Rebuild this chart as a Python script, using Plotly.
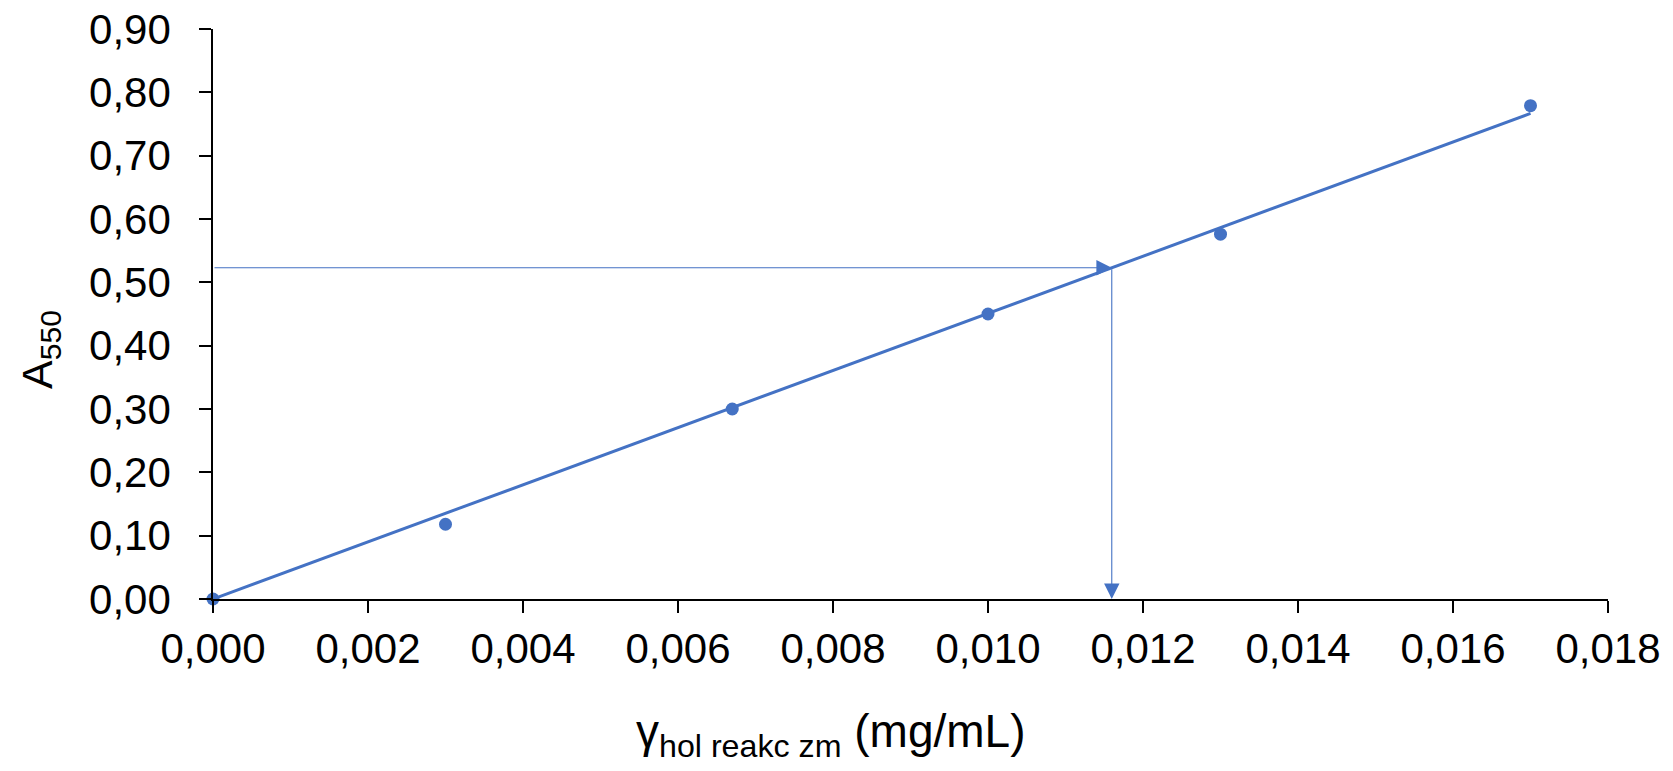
import numpy as np
import plotly.graph_objects as go

# Data
conc = [0.0, 0.0030, 0.0067, 0.0100, 0.0130, 0.0170]   # mg/mL
absorb = [0.0, 0.118, 0.300, 0.450, 0.576, 0.779]      # A550
sample_abs = 0.523
x_ticks = [0.000, 0.002, 0.004, 0.006, 0.008, 0.010, 0.012, 0.014, 0.016, 0.018]
y_ticks = [0.0, 0.1, 0.2, 0.3, 0.4, 0.5, 0.6, 0.7, 0.8, 0.9]

BLUE = "#4472C4"
FONT = "Liberation Sans, Arial, sans-serif"

# linear trend forced through origin
xa = np.array(conc)
ya = np.array(absorb)
slope = float((xa * ya).sum() / (xa * xa).sum())
trend_x = [0.0, max(conc)]
trend_y = [slope * v for v in trend_x]
sample_x = sample_abs / slope

fig = go.Figure()
fig.add_trace(go.Scatter(x=trend_x, y=trend_y, mode="lines",
                         line=dict(color=BLUE, width=3), showlegend=False, hoverinfo="skip"))
fig.add_trace(go.Scatter(x=conc, y=absorb, mode="markers",
                         marker=dict(color=BLUE, size=13), showlegend=False, cliponaxis=False))

# arrows
fig.add_annotation(x=sample_x, y=sample_abs, ax=0, ay=sample_abs, xref="x", yref="y",
                   axref="x", ayref="y", showarrow=True, arrowhead=2, arrowsize=2.8,
                   arrowwidth=1.1, arrowcolor=BLUE, standoff=0, startstandoff=0, text="")
fig.add_annotation(x=sample_x, y=0, ax=sample_x, ay=sample_abs, xref="x", yref="y",
                   axref="x", ayref="y", showarrow=True, arrowhead=2, arrowsize=2.8,
                   arrowwidth=1.1, arrowcolor=BLUE, standoff=0, startstandoff=0, text="")

# axis titles
fig.add_annotation(text="γ<sub>hol reakc zm</sub> (mg/mL)", xref="paper", yref="paper",
                   x=(830 - 213) / (1608 - 213), y=-(734 - 599) / (599 - 29),
                   showarrow=False, font=dict(family=FONT, size=46, color="black"),
                   xanchor="center", yanchor="middle")
fig.add_annotation(text="A<sub>550</sub>", xref="paper", yref="paper",
                   x=-(213 - 40) / (1608 - 213), y=(599 - 350) / (599 - 29),
                   showarrow=False, textangle=-90, font=dict(family=FONT, size=43, color="black"),
                   xanchor="center", yanchor="middle")

axis_common = dict(showgrid=False, zeroline=False, showline=True, linecolor="black",
                   linewidth=1.5, ticks="outside", ticklen=12, tickwidth=1.5,
                   tickcolor="black", automargin=False,
                   tickfont=dict(family=FONT, size=42, color="black"))

fig.update_xaxes(range=[0, 0.018], tickvals=x_ticks, tickformat=".3f", **axis_common)
fig.update_yaxes(range=[0, 0.9], tickvals=y_ticks, tickformat=".2f",
                 ticklabelstandoff=20, **axis_common)

fig.update_layout(width=1673, height=771, separators=", ",
                  margin=dict(l=213, r=65, t=29, b=172),
                  plot_bgcolor="white", paper_bgcolor="white")

fig.write_html("out.html")
